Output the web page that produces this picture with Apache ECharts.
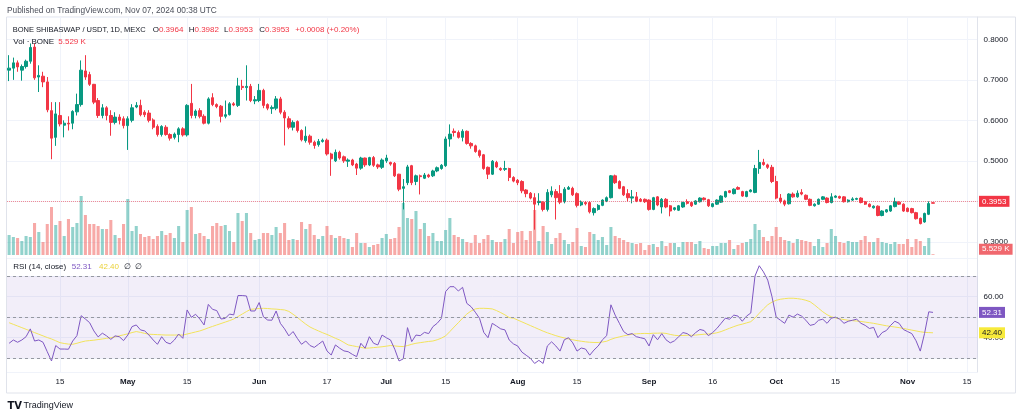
<!DOCTYPE html>
<html><head><meta charset="utf-8">
<script src="https://cdn.jsdelivr.net/npm/echarts@6/dist/echarts.min.js"></script>
<style>html,body{margin:0;padding:0;background:#fff}#c{width:1024px;height:419px}</style>
</head><body><div id="c"></div>
<script>
// ---------- data ----------
const startDate = '2024-04-03';
const dayCount = 229; // Apr 3 .. Nov 17 (axis extent)
const tickDates = ['2024-04-15','2024-05-01','2024-05-15','2024-06-01','2024-06-17','2024-07-01','2024-07-15','2024-08-01','2024-08-15','2024-09-01','2024-09-16','2024-10-01','2024-10-15','2024-11-01','2024-11-15'];
const tickLabels = ['15','May','15','Jun','17','Jul','15','Aug','15','Sep','16','Oct','15','Nov','15'];
const priceLabelTicks = [0.3, 0.5, 0.6, 0.7, 0.8];
const rsiLabelTicks = [40, 60];
const rsiBands = [70, 50, 30];

const opens = [0.724,0.729,0.742,0.724,0.733,0.746,0.781,0.707,0.709,0.695,
0.624,0.558,0.612,0.588,0.593,0.593,0.621,0.639,0.722,0.713,
0.689,0.649,0.612,0.631,0.612,0.595,0.608,0.604,0.587,0.600,
0.633,0.637,0.620,0.618,0.601,0.585,0.565,0.583,0.565,0.558,
0.565,0.579,0.564,0.642,0.612,0.624,0.610,0.593,0.656,0.639,
0.635,0.610,0.614,0.641,0.637,0.684,0.681,0.684,0.648,0.649,
0.674,0.639,0.629,0.630,0.653,0.620,0.604,0.583,0.597,0.575,
0.550,0.561,0.546,0.540,0.548,0.551,0.517,0.500,0.521,0.510,
0.499,0.502,0.492,0.482,0.507,0.490,0.508,0.490,0.484,0.500,
0.496,0.494,0.467,0.432,0.446,0.488,0.449,0.463,0.457,0.465,
0.463,0.475,0.481,0.488,0.554,0.573,0.570,0.558,0.573,0.543,
0.537,0.525,0.515,0.484,0.467,0.496,0.481,0.479,0.481,0.459,
0.452,0.449,0.428,0.420,0.409,0.397,0.398,0.380,0.416,0.424,
0.419,0.399,0.430,0.432,0.419,0.391,0.397,0.397,0.372,0.380,
0.390,0.401,0.409,0.463,0.449,0.436,0.419,0.408,0.411,0.405,
0.405,0.403,0.380,0.411,0.386,0.405,0.389,0.380,0.378,0.386,
0.399,0.397,0.393,0.399,0.408,0.404,0.387,0.393,0.398,0.411,
0.426,0.419,0.434,0.424,0.412,0.424,0.422,0.481,0.496,0.490,
0.484,0.449,0.408,0.401,0.394,0.418,0.411,0.422,0.415,0.405,
0.389,0.393,0.405,0.408,0.397,0.410,0.412,0.411,0.399,0.403,
0.405,0.408,0.399,0.393,0.384,0.388,0.365,0.374,0.376,0.387,
0.398,0.393,0.383,0.382,0.372,0.358,0.349,0.368,0.3964];
const closes = [0.729,0.742,0.732,0.733,0.746,0.780,0.705,0.711,0.695,0.626,
0.556,0.616,0.591,0.593,0.591,0.622,0.639,0.724,0.707,0.689,
0.645,0.612,0.631,0.612,0.595,0.608,0.600,0.587,0.604,0.631,
0.637,0.614,0.614,0.600,0.583,0.565,0.585,0.565,0.556,0.566,
0.579,0.564,0.637,0.612,0.623,0.610,0.593,0.653,0.639,0.634,
0.610,0.614,0.641,0.638,0.685,0.681,0.684,0.649,0.651,0.674,
0.637,0.630,0.632,0.653,0.620,0.606,0.583,0.595,0.575,0.552,
0.561,0.546,0.538,0.548,0.551,0.517,0.505,0.521,0.507,0.500,
0.502,0.490,0.482,0.507,0.490,0.508,0.489,0.485,0.502,0.507,
0.492,0.463,0.430,0.436,0.485,0.446,0.463,0.461,0.465,0.461,
0.475,0.483,0.489,0.554,0.566,0.570,0.558,0.573,0.543,0.537,
0.523,0.513,0.481,0.467,0.499,0.485,0.478,0.481,0.459,0.450,
0.446,0.426,0.419,0.408,0.393,0.400,0.380,0.422,0.425,0.409,
0.398,0.430,0.434,0.416,0.390,0.398,0.394,0.374,0.382,0.390,
0.403,0.409,0.463,0.446,0.432,0.416,0.409,0.411,0.401,0.401,
0.399,0.380,0.409,0.391,0.405,0.386,0.376,0.384,0.389,0.397,
0.395,0.389,0.401,0.408,0.404,0.389,0.394,0.403,0.413,0.424,
0.422,0.430,0.430,0.413,0.424,0.428,0.481,0.496,0.491,0.484,
0.449,0.408,0.400,0.393,0.418,0.411,0.420,0.418,0.405,0.390,
0.393,0.405,0.411,0.397,0.411,0.413,0.408,0.399,0.403,0.406,
0.407,0.397,0.393,0.387,0.388,0.365,0.376,0.379,0.389,0.399,
0.393,0.376,0.375,0.372,0.357,0.345,0.370,0.3945,0.3953];
const lows = [0.697,0.700,0.720,0.698,0.728,0.740,0.700,0.670,0.682,0.620,
0.504,0.537,0.585,0.558,0.575,0.578,0.612,0.634,0.700,0.685,
0.640,0.606,0.605,0.600,0.562,0.590,0.590,0.580,0.527,0.595,
0.630,0.610,0.608,0.595,0.578,0.560,0.560,0.562,0.550,0.553,
0.546,0.560,0.560,0.605,0.605,0.605,0.590,0.590,0.635,0.630,
0.595,0.605,0.612,0.635,0.633,0.675,0.649,0.645,0.640,0.645,
0.630,0.625,0.616,0.625,0.615,0.538,0.578,0.575,0.570,0.548,
0.545,0.540,0.530,0.535,0.545,0.513,0.463,0.497,0.503,0.495,
0.485,0.487,0.465,0.478,0.485,0.487,0.485,0.480,0.480,0.495,
0.488,0.460,0.425,0.380,0.440,0.440,0.440,0.417,0.455,0.458,
0.460,0.472,0.478,0.485,0.535,0.560,0.555,0.548,0.540,0.530,
0.520,0.508,0.478,0.455,0.465,0.482,0.475,0.475,0.450,0.447,
0.440,0.420,0.410,0.405,0.330,0.390,0.375,0.375,0.410,0.355,
0.393,0.395,0.428,0.413,0.385,0.388,0.390,0.370,0.365,0.377,
0.388,0.398,0.407,0.443,0.430,0.413,0.400,0.395,0.398,0.398,
0.396,0.377,0.378,0.388,0.370,0.383,0.363,0.377,0.376,0.384,
0.392,0.386,0.391,0.397,0.402,0.386,0.385,0.391,0.396,0.409,
0.420,0.417,0.428,0.411,0.410,0.422,0.420,0.468,0.488,0.480,
0.445,0.405,0.395,0.388,0.392,0.409,0.409,0.415,0.403,0.388,
0.387,0.391,0.403,0.395,0.395,0.408,0.406,0.397,0.397,0.401,
0.403,0.395,0.391,0.385,0.382,0.363,0.363,0.372,0.374,0.385,
0.391,0.374,0.373,0.370,0.355,0.343,0.347,0.366,0.3953];
const highs = [0.761,0.755,0.748,0.738,0.750,0.790,0.790,0.736,0.720,0.707,
0.645,0.645,0.645,0.600,0.610,0.625,0.666,0.748,0.761,0.720,
0.690,0.655,0.640,0.635,0.625,0.620,0.615,0.610,0.610,0.640,
0.645,0.651,0.625,0.625,0.605,0.590,0.588,0.588,0.568,0.570,
0.583,0.583,0.640,0.690,0.627,0.630,0.615,0.657,0.667,0.642,
0.638,0.649,0.645,0.645,0.705,0.700,0.736,0.690,0.660,0.690,
0.678,0.642,0.637,0.660,0.658,0.625,0.610,0.600,0.600,0.578,
0.585,0.565,0.550,0.554,0.555,0.555,0.520,0.528,0.525,0.513,
0.506,0.505,0.495,0.510,0.508,0.510,0.512,0.493,0.506,0.515,
0.498,0.497,0.468,0.455,0.490,0.490,0.466,0.466,0.470,0.468,
0.478,0.486,0.492,0.560,0.590,0.580,0.575,0.578,0.575,0.546,
0.540,0.528,0.517,0.486,0.502,0.500,0.484,0.500,0.483,0.462,
0.455,0.452,0.430,0.423,0.420,0.420,0.400,0.430,0.437,0.430,
0.440,0.435,0.438,0.436,0.422,0.402,0.400,0.400,0.385,0.393,
0.405,0.412,0.465,0.466,0.452,0.438,0.430,0.428,0.423,0.408,
0.407,0.405,0.411,0.413,0.408,0.408,0.391,0.386,0.391,0.399,
0.405,0.399,0.403,0.410,0.410,0.406,0.396,0.405,0.415,0.426,
0.428,0.432,0.437,0.426,0.426,0.430,0.490,0.527,0.505,0.493,
0.490,0.463,0.418,0.404,0.420,0.422,0.427,0.430,0.417,0.407,
0.395,0.407,0.413,0.410,0.420,0.415,0.414,0.413,0.405,0.410,
0.409,0.410,0.401,0.395,0.390,0.390,0.378,0.381,0.391,0.409,
0.400,0.395,0.385,0.384,0.374,0.360,0.372,0.400,0.3982];
const volumesK = [140,126,119,98,133,126,224,161,91,217,
336,210,238,133,252,196,224,413,280,217,
217,203,182,182,245,140,119,217,392,168,
203,147,126,133,112,133,168,140,154,119,
203,91,315,336,147,154,133,112,203,224,
203,210,168,91,294,238,294,154,105,112,
154,154,140,196,154,224,105,112,105,231,
182,217,140,112,133,203,140,119,133,119,
112,56,154,84,84,56,70,77,119,147,
112,119,196,364,259,252,308,182,224,133,
154,98,98,175,259,140,126,112,91,84,
140,84,112,140,105,91,91,112,182,84,
161,168,105,168,315,98,203,161,77,119,
154,105,77,91,189,63,56,161,147,105,
126,70,196,133,119,105,91,84,77,84,
35,70,77,56,98,63,84,84,56,91,
91,91,77,98,49,42,63,63,84,84,
105,42,70,84,91,112,217,175,126,98,
133,196,126,105,98,84,112,105,98,91,
63,112,56,84,182,133,91,84,98,91,
91,105,133,91,91,119,91,84,77,91,
77,77,112,56,112,98,63,119,5.529];
const rsi = [37.3,38.9,37.8,38.9,40.5,44.3,38.4,38.9,37.8,33.2,
28.7,36.2,34.5,34.5,34.4,38.4,41.0,50.7,49.1,47.3,
43.3,40.4,42.2,40.9,39.2,40.9,40.5,38.6,41.3,45.4,
46.2,43.8,43.3,41.3,38.9,36.8,40.5,37.8,37.0,38.9,
41.8,39.7,53.5,49.9,51.4,49.1,46.2,56.2,53.8,53.2,
49.1,49.4,51.5,51.1,60.5,60.5,60.3,53.0,53.0,57.1,
50.2,48.6,48.5,53.0,47.0,44.3,40.9,43.0,39.7,36.8,
38.4,36.2,35.3,36.8,38.4,33.6,31.6,36.5,34.9,33.6,
33.2,31.9,30.8,37.3,34.9,40.5,37.3,36.5,41.3,40.0,
38.9,34.4,28.7,29.7,44.9,38.1,41.3,41.0,42.6,42.0,
45.4,47.0,49.4,62.4,64.8,64.8,62.7,64.5,56.7,55.1,
52.4,49.4,42.6,40.0,47.0,45.7,44.3,43.8,38.9,37,
36,33,31.5,30,27.5,29,27.5,36,38,36,
33.5,39,40,37.5,33.5,35,34.5,31.5,34,36,
39,41,56,51,47,43,41.5,42,40.5,40,
39.5,36,41.5,39,42,39,37.5,38.5,40.5,42.5,
42,40.5,42.5,44,43.5,41,42.5,44.5,47,49.5,
49,51,50.5,48,50.5,52,70,75,72,68,
60,50,48.5,47,51,50,51.5,50.5,48.5,46,
46.5,48.5,49,47,49.5,50,49,47,48,48.5,
49,47,46,44.5,45,40,42.5,43.5,46,48,
47,44,43,42,38.5,33.5,42,52.6,52.31];
const rsiMA = [47.3,46.5,45.7,44.9,44.1,43.3,42.5,41.7,40.9,40.1,
39.4,38.5,37.6,37.2,36.9,36.8,37.3,37.9,38.4,38.6,
38.8,39.1,39.4,39.7,40.0,40.4,40.9,41.4,41.9,42.5,
43.0,42.6,42.1,41.7,41.6,41.5,41.4,41.3,41.3,41.3,
41.3,41.3,41.8,42.3,42.8,43.3,44.0,44.8,45.5,46.2,
46.9,47.6,48.3,49.1,50.3,51.5,52.7,53.8,54.0,54.2,
54.3,54.2,54.0,53.9,53.7,53.5,52.8,51.4,49.9,48.2,
46.6,45.2,44.2,43.3,42.4,41.6,40.7,39.7,38.9,37.7,
36.5,36.1,35.7,35.3,34.9,35.0,35.2,35.4,35.6,35.9,
36.2,36.0,35.8,35.7,36.2,36.8,37.3,37.6,37.9,38.2,
38.4,39.0,39.8,40.9,43.0,45.2,47.3,49.5,51.5,53.0,
54.0,54.3,54.3,54.2,54.0,53.2,52.2,51.1,49.8,49.5,
48.6,47.7,46.8,45.9,45.0,44.1,43.2,42.4,41.7,41.0,
40.4,39.9,39.4,39.0,38.6,38.3,38.0,37.8,37.7,37.7,
37.9,38.3,39.2,39.9,40.4,40.9,41.3,41.7,41.9,42.0,
42.1,42.0,42.2,42.2,42.3,42.1,41.6,41.2,41.0,41.1,
41.2,41.2,41.3,41.5,41.7,41.8,42.0,42.4,43.0,43.8,
44.6,45.4,46.1,46.6,47.2,47.8,49.6,51.9,54.0,56.0,
57.3,58.2,58.7,59.0,59.2,59.2,59.0,58.7,58.2,57.5,
56.0,54.3,52.6,51.2,50.2,49.6,49.2,48.8,48.5,48.3,
48.1,47.9,47.6,47.3,47.0,46.6,46.2,45.8,45.5,45.2,
44.9,44.5,44.1,43.7,43.3,42.9,42.6,42.5,42.40];

// ---------- helpers ----------
const dates = [];
{
  const d0 = new Date(startDate + 'T00:00:00Z');
  for (let i = 0; i < dayCount; i++) {
    const d = new Date(d0.getTime() + i * 86400000);
    dates.push(d.toISOString().slice(0, 10));
  }
}
const last = closes.length - 1;
const lastClose = closes[last];
const prevClose = closes[last - 1];
const chg = lastClose - prevClose;
const chgPct = chg / prevClose * 100;
const lastVol = volumesK[last];
const lastRsi = rsi[rsi.length - 1];
const lastMA = rsiMA[rsiMA.length - 1];

const UP = '#089981', DOWN = '#F23645';
const VOL_UP = 'rgba(38,166,154,0.5)', VOL_DOWN = 'rgba(239,83,80,0.5)';
const GRID = '#F0F3FA';
const TXT = '#131722';
const FONT = 'Liberation Sans';
const CLEAR = 'rgba(0,0,0,0)';

const isTick = (v) => tickDates.indexOf(v) >= 0;
const near = (list, v, eps) => list.some(t => Math.abs(t - v) < eps);

// geometry
const L = 7, W = 970.5;
const priceTop = 17, paneBottom = 258, rsiBottom = 372;
const priceMin = 0.26, priceMax = 0.8553;
const volMin = -21, volMax = 1666;
const rsiMin = 23.34, rsiMax = 78.75;

const chart = echarts.init(document.getElementById('c'), null, {renderer: 'canvas'});

const catAxis = (gi, extra) => Object.assign({
  type: 'category', gridIndex: gi, data: dates, boundaryGap: true,
  axisLine: {show: false}, axisTick: {show: false}, axisLabel: {show: false},
  splitLine: {show: false}
}, extra);

const vSplit = {show: true, interval: (i, v) => isTick(v), alignWithLabel: true, lineStyle: {color: GRID, width: 1}};

const txt = (x, y, text, fill, extra) => ({
  type: 'text', x: x, y: y, silent: true, z: 100,
  style: Object.assign({text: text, fill: fill, font: '8px "' + FONT + '"', align: 'left', verticalAlign: 'middle'}, extra || {})
});
const kv = (k, v) => '{k|' + k + '}{v|' + v + '}';
const kvRich = {rich: {k: {fill: TXT, font: '8px "' + FONT + '"'}, v: {fill: DOWN, font: '8px "' + FONT + '"'}}};

const boxLabel = (text, bg, fg, extra) => Object.assign({
  show: true, position: 'end', distance: 1.5, formatter: text, color: fg,
  backgroundColor: bg, fontSize: 8, padding: [1, 3], lineHeight: 9, fontFamily: FONT
}, extra || {});

const option = {
  animation: false,
  textStyle: {fontFamily: FONT},
  grid: [
    {left: L, top: priceTop, width: W, height: paneBottom - priceTop},
    {left: L, top: priceTop, width: W, height: paneBottom - priceTop},
    {left: L, top: paneBottom, width: W, height: rsiBottom - paneBottom}
  ],
  xAxis: [
    catAxis(0, {splitLine: vSplit}),
    catAxis(1),
    catAxis(2, {
      splitLine: vSplit,
      axisLabel: {
        show: true, interval: (i, v) => isTick(v), margin: 6, fontSize: 8, color: TXT, fontFamily: FONT,
        formatter: (v) => {
          const lab = tickLabels[tickDates.indexOf(v)];
          return /^[A-Za-z]/.test(lab) ? '{m|' + lab + '}' : lab;
        },
        rich: {m: {fontWeight: 'bold', fontSize: 8, color: TXT, fontFamily: FONT}}
      }
    })
  ],
  yAxis: [
    {type: 'value', gridIndex: 0, position: 'right', min: priceMin, max: priceMax,
     axisLine: {show: true, lineStyle: {color: '#E0E3EB'}}, axisTick: {show: false},
     splitLine: {show: true, lineStyle: {color: GRID}},
     axisLabel: {color: TXT, fontSize: 8, margin: 6, fontFamily: FONT,
       formatter: (v) => near(priceLabelTicks, v, 1e-6) ? v.toFixed(4) : ''}},
    {type: 'value', gridIndex: 1, min: volMin, max: volMax, show: false, splitLine: {show: false}},
    {type: 'value', gridIndex: 2, position: 'right', min: rsiMin, max: rsiMax,
     axisLine: {show: true, lineStyle: {color: '#E0E3EB'}}, axisTick: {show: false},
     splitLine: {show: true, lineStyle: {color: GRID}},
     axisLabel: {color: TXT, fontSize: 8, margin: 6, fontFamily: FONT,
       formatter: (v) => near(rsiLabelTicks, v, 1e-6) ? v.toFixed(2) : ''}}
  ],
  series: [
    {
      type: 'bar', name: 'Volume', xAxisIndex: 1, yAxisIndex: 1, barWidth: '72%', z: 2,
      data: volumesK.map((v, i) => ({value: v, itemStyle: {color: closes[i] >= opens[i] ? VOL_UP : VOL_DOWN}})),
      markLine: {
        silent: true, symbol: 'none', z: 20,
        lineStyle: {color: CLEAR, width: 0},
        label: boxLabel(lastVol.toFixed(3) + ' K', '#F0686E', '#fff', {offset: [0, -5]}),
        data: [{yAxis: lastVol}]
      }
    },
    {
      type: 'candlestick', name: 'Price', xAxisIndex: 0, yAxisIndex: 0, barWidth: '68%', z: 3,
      data: opens.map((o, i) => [o, closes[i], lows[i], highs[i]]),
      itemStyle: {color: UP, color0: DOWN, borderColor: UP, borderColor0: DOWN, borderWidth: 1},
      markLine: {
        silent: true, symbol: 'none', z: 20,
        lineStyle: {color: 'rgba(242,54,69,0.55)', type: 'dotted', width: 1},
        label: boxLabel(lastClose.toFixed(4), DOWN, '#fff'),
        data: [{yAxis: lastClose}]
      }
    },
    {
      type: 'line', name: 'RSI', xAxisIndex: 2, yAxisIndex: 2, data: rsi, showSymbol: false, z: 4,
      lineStyle: {color: '#7E57C2', width: 1}, itemStyle: {color: '#7E57C2'},
      markArea: {silent: true, itemStyle: {color: 'rgba(126,87,194,0.1)'}, data: [[{yAxis: rsiBands[2]}, {yAxis: rsiBands[0]}]]},
      markLine: {
        silent: true, symbol: 'none', z: 20,
        data: rsiBands.map(b => ({yAxis: b, lineStyle: {color: '#9598A1', type: [3, 3], width: 1}, label: {show: false}}))
          .concat([{yAxis: lastRsi, lineStyle: {color: CLEAR, width: 0},
            label: boxLabel(lastRsi.toFixed(2), '#7E57C2', '#fff')}])
      }
    },
    {
      type: 'line', name: 'RSI MA', xAxisIndex: 2, yAxisIndex: 2, data: rsiMA, showSymbol: false, z: 3,
      lineStyle: {color: '#F2E35B', width: 1}, itemStyle: {color: '#F2E35B'},
      markLine: {
        silent: true, symbol: 'none', z: 20, lineStyle: {color: CLEAR, width: 0},
        label: boxLabel(lastMA.toFixed(2), '#F7EA3B', TXT),
        data: [{yAxis: lastMA}]
      }
    }
  ],
  graphic: [
    {type: 'rect', silent: true, z: -10, shape: {x: 6.5, y: 17, width: 1009, height: 376}, style: {fill: 'none', stroke: '#E0E3EB', lineWidth: 1}},
    txt(7, 11, 'Published on TradingView.com, Nov 07, 2024 00:38 UTC', '#4A4E59', {font: '8.3px "' + FONT + '"'}),
    txt(12.7, 30, 'BONE SHIBASWAP / USDT, 1D, MEXC', TXT, {font: '7.5px "' + FONT + '"'}),
    txt(152.7, 30, kv('O', opens[last].toFixed(4)), TXT, kvRich),
    txt(188.7, 30, kv('H', highs[last].toFixed(4)), TXT, kvRich),
    txt(224, 30, kv('L', lows[last].toFixed(4)), TXT, kvRich),
    txt(259.3, 30, kv('C', closes[last].toFixed(4)), TXT, kvRich),
    txt(295.3, 30, (chg >= 0 ? '+' : '') + chg.toFixed(4) + ' (' + (chgPct >= 0 ? '+' : '') + chgPct.toFixed(2) + '%)', DOWN),
    txt(13.3, 41.5, 'Vol · BONE', TXT),
    txt(58.3, 41.5, lastVol.toFixed(3) + ' K', DOWN),
    txt(13.3, 266.7, 'RSI (14, close)', TXT),
    txt(71.7, 266.7, lastRsi.toFixed(2), '#7E57C2'),
    txt(99, 266.7, lastMA.toFixed(2), '#EBD23A'),
    txt(124.3, 266.7, '∅', TXT),
    txt(135, 266.7, '∅', TXT),
    txt(7.5, 406, 'TV', TXT, {font: 'bold 10px "DejaVu Sans"'}),
    txt(23.5, 406, 'TradingView', TXT, {font: '9px "' + FONT + '"'})
  ]
};
chart.setOption(option);
</script>
</body></html>
